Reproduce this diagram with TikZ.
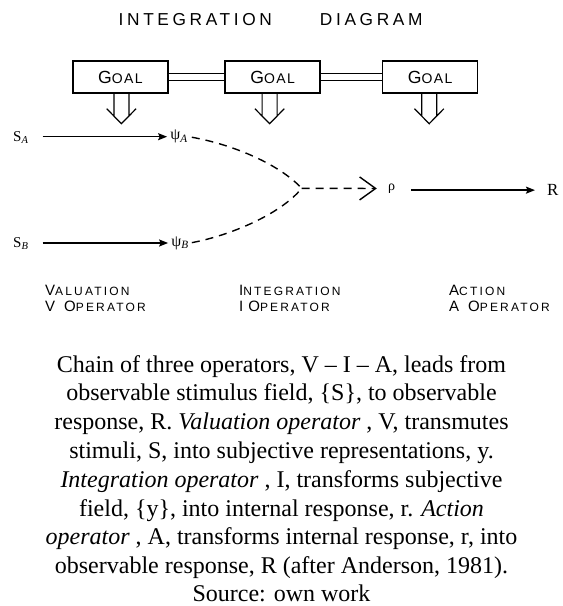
\documentclass[tikz,border=0pt]{standalone}
\usepackage{fontspec}
\setmainfont{Liberation Serif}
\newfontfamily\titlefont[LetterSpace=21]{Liberation Sans}
\newfontfamily\labelfont[LetterSpace=18]{Liberation Sans}
\newfontfamily\goalfont[LetterSpace=10]{Liberation Sans}
\usetikzlibrary{arrows.meta}
\newcommand\bigsc[1]{{\fontsize{15}{15}\selectfont #1}}
\newcommand\smsc[1]{{\fontsize{12}{12}\selectfont #1}}
\newcommand\goaltext{{\fontsize{17.6}{17.6}\selectfont G}{\fontsize{14}{14}\selectfont OAL}}
\begin{document}
\begin{tikzpicture}[x=1pt,y=-1pt,
  goalbox/.style={draw,line width=1.4pt,minimum width=95pt,minimum height=32pt,inner sep=0pt,font=\goalfont},
  link/.style={double,double distance=6.5pt,line width=1pt},
  hollow/.style={line width=1.2pt},
  solidarr/.style={line width=1.3pt,-{Stealth[length=9pt,width=7pt,inset=1.5pt]}},
  dasharr/.style={line width=1.4pt,dash pattern=on 8pt off 6pt},
  sym/.style={inner sep=1pt},
  oplabel/.style={anchor=base west,inner sep=0pt,font=\labelfont},
  captext/.style={anchor=base,inner sep=0pt,font=\fontsize{24}{29}\selectfont}]
\fill[white] (0,0) rectangle (563,606);
\useasboundingbox (0,0) rectangle (563,606);

% title
\node[anchor=base west,inner sep=0pt,font=\titlefont\fontsize{17.3}{17.3}\selectfont] (title) at (118.5,25.7) {INTEGRATION\hspace{48pt}DIAGRAM};

% goal boxes
\node[goalbox] (g1) at (120.4,77) {\goaltext};
\node[goalbox] (g2) at (272.6,77) {\goaltext};
\node[goalbox] (g3) at (430.2,77) {\goaltext};
\draw[link] (g1) -- (g2);
\draw[link] (g2) -- (g3);
\foreach \g/\dx in {g1/1,g2/-3,g3/-1} {
  \begin{scope}[shift={(\g.south)},xshift=\dx pt]
    \draw[hollow] (-7.5,0) -- (-7.5,22.3) (7.5,0) -- (7.5,22.3)
                  (-14.7,15) -- (0,30) -- (14.7,15);
  \end{scope}
}

% stimuli and responses
\node[sym,anchor=base west,font=\fontsize{15}{15}\selectfont] (sa) at (12,141.7) {S\textsubscript{\itshape A}};
\node[sym,anchor=base west,font=\fontsize{15}{15}\selectfont] (sb) at (12,247.3) {S\textsubscript{\itshape B}};
\node[sym,font=\fontsize{16}{16}\selectfont] (psia) at (179,136.7) {ψ\textsubscript{\itshape A}};
\node[sym,font=\fontsize{16}{16}\selectfont] (psib) at (180,243) {ψ\textsubscript{\itshape B}};
\coordinate (J) at (301.7,188.3);
\node[sym,font=\fontsize{14}{14}\selectfont] (rho) at (391.5,188.5) {ρ};
\node[sym,anchor=base west,font=\fontsize{17}{17}\selectfont] (R) at (546,195.7) {R};

\draw[solidarr,shorten <=13pt,shorten >=2pt] (sa.east |- psia.west) -- (psia.west);
\draw[solidarr,shorten <=13pt,shorten >=2pt] (sb.east |- psib.west) -- (psib.west);
\draw[dasharr,shorten <=3pt] (psia.east) .. controls (235,145) and (280,165) .. (J);
\draw[dasharr,shorten <=2pt] (psib.east) .. controls (228,236) and (280,215) .. (J);
\draw[dasharr,-{Straight Barb[length=16pt,width=23pt]},shorten >=10pt] (J) -- (rho.west);
\draw[solidarr,shorten <=15pt,shorten >=11pt] (rho.east |- R.west) -- (R.west);

% operator labels
\node[oplabel] (val) at (45,295) {\bigsc{V}\smsc{ALUATION}};
\node[oplabel] (vop) at (45,311.7) {\bigsc{V}\hspace{9pt}\bigsc{O}\smsc{PERATOR}};
\node[oplabel] (int) at (239,295) {\bigsc{I}\smsc{NTEGRATION}};
\node[oplabel] (iop) at (239,311.7) {\bigsc{I}\hspace{5pt}\bigsc{O}\smsc{PERATOR}};
\node[oplabel] (act) at (449,295) {\bigsc{A}\smsc{CTION}};
\node[oplabel] (aop) at (449,311.7) {\bigsc{A}\hspace{9pt}\bigsc{O}\smsc{PERATOR}};

% caption
\node[captext] (c1) at (281.5,372) {Chain of three operators, V – I – A, leads from};
\node[captext] (c2) at (281.5,400.8) {observable stimulus field, \{S\}, to observable};
\node[captext] (c3) at (281.5,429.6) {response, R. \textit{Valuation operator} , V, transmutes};
\node[captext] (c4) at (281.5,458.4) {stimuli, S, into subjective representations, y.};
\node[captext] (c5) at (281.5,487.2) {\textit{Integration operator} , I, transforms subjective};
\node[captext] (c6) at (281.5,516) {field, \{y\}, into internal response, r. \textit{Action}};
\node[captext] (c7) at (281.5,544.8) {\textit{operator} , A, transforms internal response, r, into};
\node[captext] (c8) at (281.5,573.6) {observable response, R (after Anderson, 1981).};
\node[captext] (c9) at (281.5,601.5) {Source: own work};
\end{tikzpicture}
\end{document}
